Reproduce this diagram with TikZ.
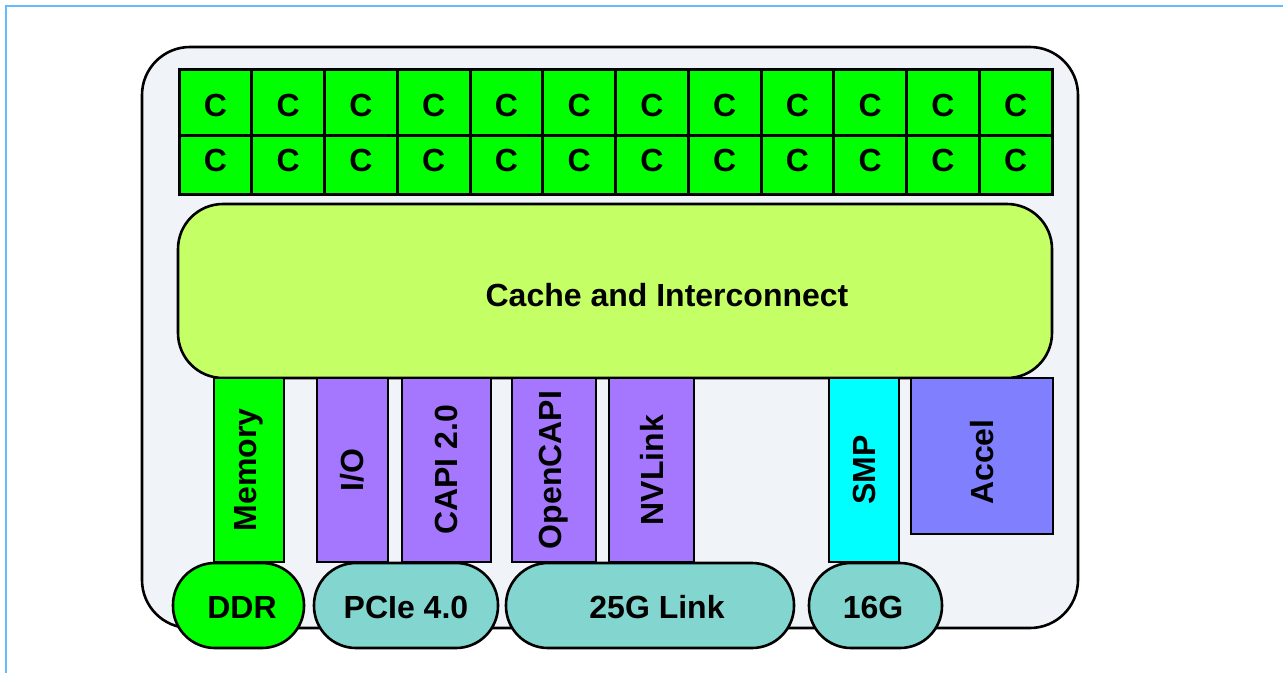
\documentclass[tikz,border=0pt]{standalone}
\usepackage{fontspec}
\setmainfont{Liberation Sans}
\definecolor{framecol}{HTML}{66BBFF}
\definecolor{chipbg}{HTML}{F0F4F8}
\definecolor{coregreen}{HTML}{00FF00}
\definecolor{cachecol}{HTML}{C4FF66}
\definecolor{purplecol}{HTML}{A577FF}
\definecolor{smpcol}{HTML}{00FFFF}
\definecolor{accelcol}{HTML}{8080FF}
\definecolor{tealcol}{HTML}{82D6CF}
\newcommand\diagfont{\bfseries\fontsize{32}{38}\selectfont}
\begin{document}
\begin{tikzpicture}[x=1pt,y=-1pt,
  box/.style={draw=black, line width=2.6pt, inner sep=0pt, outer sep=0pt, anchor=north west, font=\diagfont},
  core/.style={box, fill=coregreen, line width=3pt, minimum width=72.75pt},
  txt/.style={inner sep=0pt, font=\diagfont},
  bar/.style={box, minimum height=184pt},
  pill/.style={box, fill=tealcol, minimum height=85pt, rounded corners=42pt}]
\useasboundingbox (0,0) rectangle (1283,673);
\fill[white] (0,0) rectangle (1283,673);
\draw[framecol, line width=2.5pt] (6,673) -- (6,6) -- (1283,6);
% chip
\node[box, fill=chipbg, rounded corners=48pt, minimum width=936pt, minimum height=581pt] (chip) at (142,47) {};
% cores
\foreach \i in {0,...,11} {
  \node[core, minimum height=66pt] (ca\i) at ({179+72.75*\i},69) {};
  \node[core, minimum height=59pt] (cb\i) at ({179+72.75*\i},135) {};
  \node[txt, yshift=-3.5pt] (tca\i) at (ca\i.center) {C};
  \node[txt, yshift=4.5pt] (tcb\i) at (cb\i.center) {C};
}
% cache
\node[box, fill=cachecol, rounded corners=45pt, minimum width=874pt, minimum height=174pt] (cache) at (178,204) {};
\node[txt] (cachetxt) at (667,295) {Cache and Interconnect};
% bars
\node[bar, fill=coregreen, minimum width=70pt] (mem) at (214,378) {\rotatebox{90}{Memory}};
\node[bar, fill=purplecol, minimum width=71pt] (io) at (317,378) {\rotatebox{90}{I/O}};
\node[bar, fill=purplecol, minimum width=89pt] (capi) at (402,378) {\rotatebox{90}{CAPI 2.0}};
\node[bar, fill=purplecol, minimum width=84pt] (ocapi) at (512,378) {\rotatebox{90}{OpenCAPI}};
\node[bar, fill=purplecol, minimum width=85pt] (nvl) at (609,378) {\rotatebox{90}{NVLink}};
\node[bar, fill=smpcol, minimum width=70pt] (smp) at (829,378) {\rotatebox{90}{SMP}};
\node[box, fill=accelcol, minimum width=142pt, minimum height=156pt] (accel) at (911,378) {};
\node[txt, yshift=-6pt] (acceltxt) at (accel.center) {\rotatebox{90}{Accel}};
% pills
\node[pill, fill=coregreen, minimum width=131pt] (ddr) at (173,563) {};
\node[txt] (ddrtxt) at (242,607) {DDR};
\node[pill, minimum width=184pt] (pcie) at (314,563) {};
\node[txt] (pcietxt) at (406,607) {PCIe 4.0};
\node[pill, minimum width=288pt] (link) at (506,563) {};
\node[txt] (linktxt) at (657,607) {25G Link};
\node[pill, minimum width=133pt] (g16) at (809,563) {};
\node[txt] (g16txt) at (873,607) {16G};
\end{tikzpicture}
\end{document}
